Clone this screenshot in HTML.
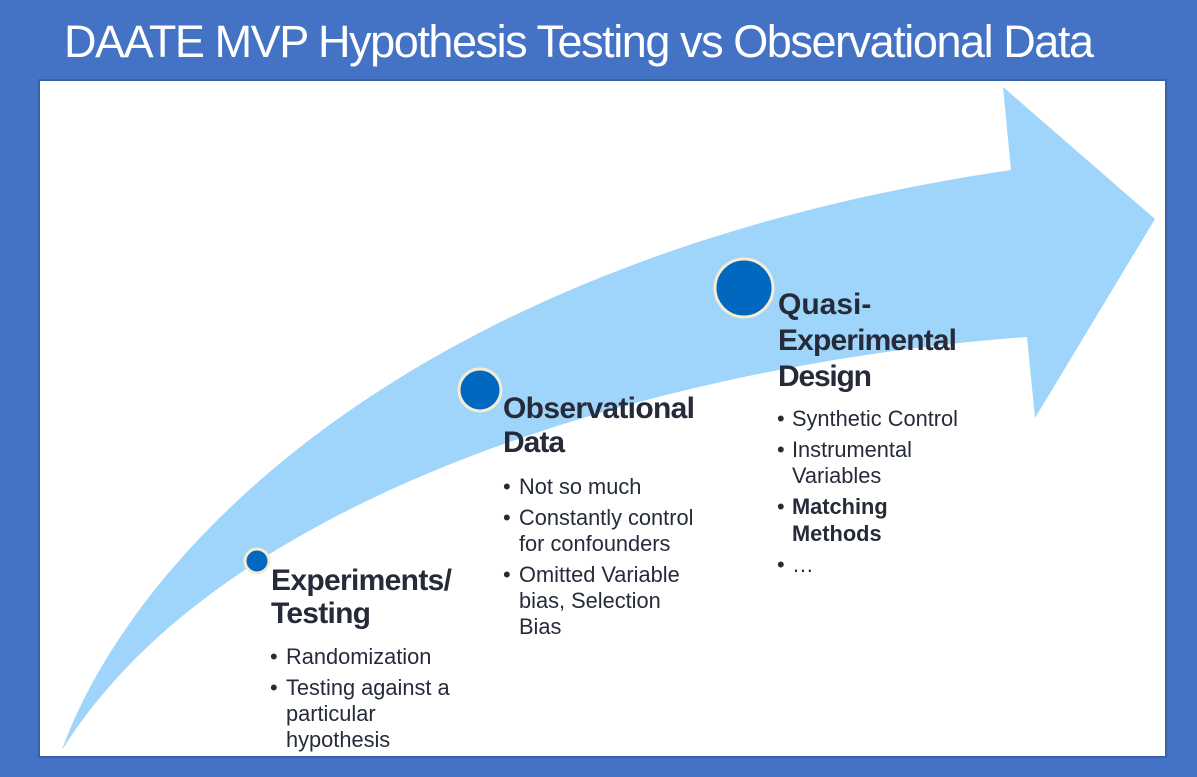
<!DOCTYPE html>
<html><head><meta charset="utf-8"><style>
body{margin:0;width:1197px;height:777px;background:#4472c4;overflow:hidden;font-family:"Liberation Sans",sans-serif}
svg{position:absolute;left:0;top:0}
</style></head><body>
<svg width="1197" height="777">
<text x="64" y="57" fill="#fff" font-size="45" font-family="Liberation Sans,sans-serif" textLength="1030">DAATE MVP Hypothesis Testing vs Observational Data</text>
<rect x="39" y="80" width="1127" height="677" fill="#fff" stroke="#3a62a8" stroke-width="2"/>
<path d="M62,750 C130,560 400,260 1011,170 L1003,87 L1155,219 L1035,418 L1027,337 C700,360 230,480 62,750 Z" fill="#9fd4fb"/>
<circle cx="257" cy="561" r="12" fill="#0068bf" stroke="#f4ecd3" stroke-width="3"/>
<circle cx="480" cy="390" r="21" fill="#0068bf" stroke="#f4ecd3" stroke-width="3"/>
<circle cx="744" cy="288" r="29" fill="#0068bf" stroke="#f4ecd3" stroke-width="3"/>
<g fill="#262b3a" font-weight="bold" font-size="30">
<text x="271" y="590" textLength="181">Experiments/</text>
<text x="271" y="623" textLength="100">Testing</text>
<text x="503" y="418" textLength="192">Observational</text>
<text x="503" y="452" textLength="62">Data</text>
<text x="778" y="314">Quasi-</text>
<text x="778" y="350" textLength="179">Experimental</text>
<text x="778" y="386" textLength="94">Design</text>
</g>
<g fill="#262b3a" font-size="21.8">
<text x="270" y="664">•</text><text x="286" y="664">Randomization</text>
<text x="270" y="695">•</text><text x="286" y="695">Testing against a</text>
<text x="286" y="721">particular</text>
<text x="286" y="747">hypothesis</text>
<text x="503" y="494">•</text><text x="519" y="494">Not so much</text>
<text x="503" y="525">•</text><text x="519" y="525">Constantly control</text>
<text x="519" y="551">for confounders</text>
<text x="503" y="582">•</text><text x="519" y="582">Omitted Variable</text>
<text x="519" y="608">bias, Selection</text>
<text x="519" y="634">Bias</text>
<text x="777" y="426">•</text><text x="792" y="426">Synthetic Control</text>
<text x="777" y="457">•</text><text x="792" y="457">Instrumental</text>
<text x="792" y="483">Variables</text>
<text x="777" y="514">•</text><text x="792" y="514" font-weight="bold">Matching</text>
<text x="792" y="541" font-weight="bold">Methods</text>
<text x="777" y="572">•</text><text x="792" y="572">…</text>
</g>
</svg>
</body></html>
